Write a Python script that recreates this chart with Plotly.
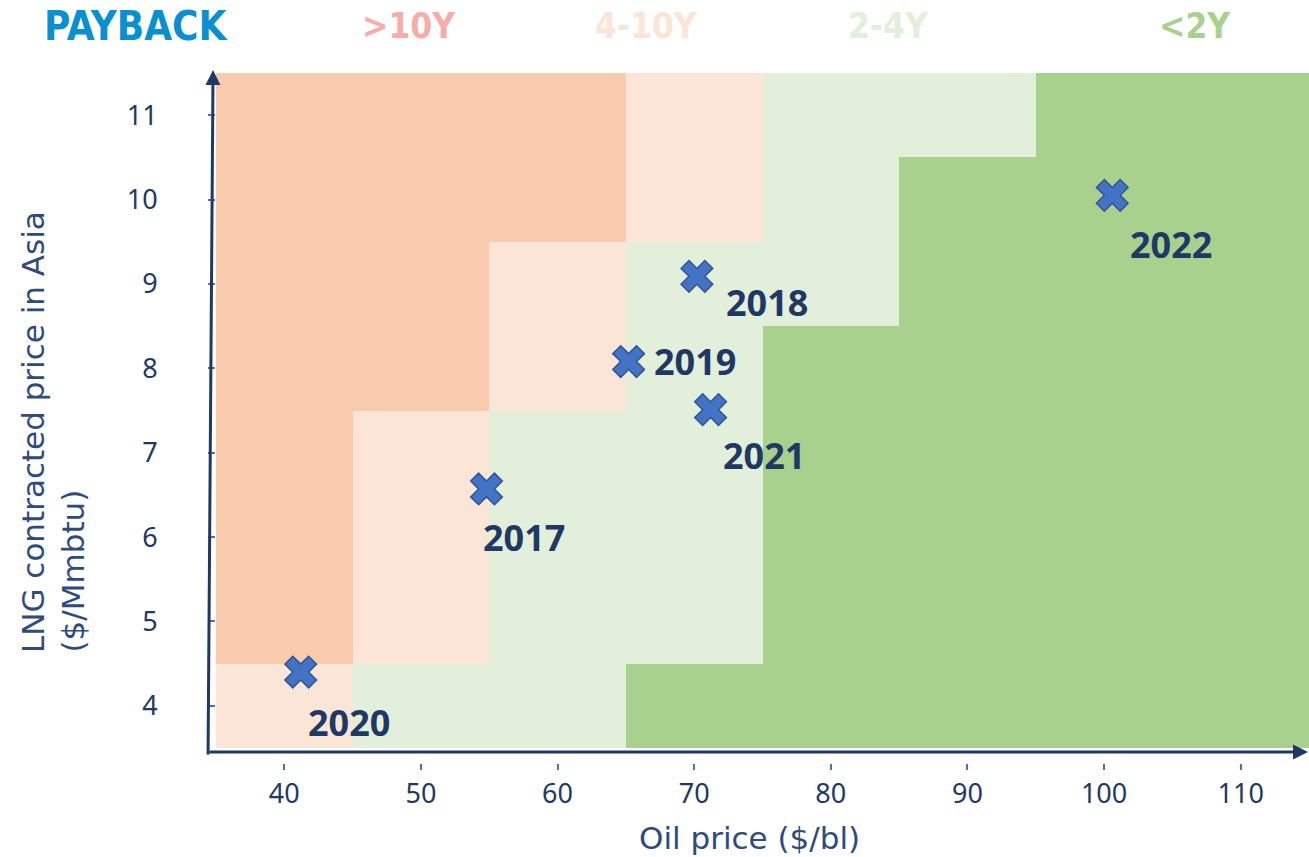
import plotly.graph_objects as go

# payback zones: 0 = >10Y, 1 = 4-10Y, 2 = 2-4Y, 3 = <2Y
zone_names = ['>10Y', '4-10Y', '2-4Y', '<2Y']
zone_colors = ['#F8CBAD', '#FBE5D6', '#E2EFDA', '#A9D18E']
header_colors = ['#F4ADA8', '#FBE5D6', '#E2EFDA', '#A9D18E']

oil_price = [40, 50, 60, 70, 80, 90, 100, 110]
lng_price = [4, 5, 6, 7, 8, 9, 10, 11]

# one row per LNG price, one column per oil price
zones = [
    [1, 2, 2, 3, 3, 3, 3, 3],
    [0, 1, 2, 2, 3, 3, 3, 3],
    [0, 1, 2, 2, 3, 3, 3, 3],
    [0, 1, 2, 2, 3, 3, 3, 3],
    [0, 0, 1, 2, 3, 3, 3, 3],
    [0, 0, 1, 2, 2, 3, 3, 3],
    [0, 0, 0, 1, 2, 3, 3, 3],
    [0, 0, 0, 1, 2, 2, 3, 3],
]

years = ['2020', '2017', '2019', '2018', '2021', '2022']
year_oil = [41.2, 54.8, 65.2, 70.2, 71.2, 100.6]
year_lng = [4.40, 6.57, 8.08, 9.09, 7.51, 10.05]

navy = '#1F3864'
title_col = '#2F4B7C'
label_offsets = {  # pixel shift of the year label from its marker
    '2020': (48, -50), '2017': (37, -49), '2019': (66, 0),
    '2018': (70, -26), '2021': (53, -46), '2022': (59, -49),
}

# stepped colour scale so each zone gets a flat colour
scale = []
n = len(zone_colors)
for i, c in enumerate(zone_colors):
    lo = max(0, (i - 0.5) / (n - 1))
    hi = min(1, (i + 0.5) / (n - 1))
    scale += [[lo, c], [hi, c]]

fig = go.Figure()
fig.add_trace(go.Heatmap(x=oil_price, y=lng_price, z=zones, zmin=0, zmax=3,
                         colorscale=scale, showscale=False, hoverinfo='skip'))
fig.add_trace(go.Scatter(x=year_oil, y=year_lng, mode='markers', text=years,
                         marker=dict(symbol='x', size=28, color='#4472C4',
                                     line=dict(color='#2F5597', width=1.5)),
                         showlegend=False))

for yr, xo, yl in zip(years, year_oil, year_lng):
    dx, dy = label_offsets[yr]
    fig.add_annotation(x=xo, y=yl, text='<b>' + yr + '</b>', showarrow=False,
                       xshift=dx, yshift=dy, xanchor='center', yanchor='middle',
                       font=dict(family='Open Sans', size=36, color=navy))

# axis arrows
fig.add_annotation(xref='paper', yref='paper', x=1, y=0.0159, axref='pixel', ayref='pixel',
                   ax=-1101, ay=0, text='', showarrow=True, arrowhead=2, arrowsize=1,
                   arrowwidth=3, arrowcolor=navy)
fig.add_annotation(xref='paper', yref='paper', x=-0.0027, y=1.0043, axref='pixel', ayref='pixel',
                   ax=-5, ay=686, text='', showarrow=True, arrowhead=2, arrowsize=1,
                   arrowwidth=3, arrowcolor=navy)


def paper_text(px, py, text, size, color, family, angle=0, yanchor='middle'):
    # place a text by its pixel position in the 1309x857 figure
    fig.add_annotation(xref='paper', yref='paper', x=(px - 216) / 1093, y=(763 - py) / 690,
                       xanchor='center', yanchor=yanchor, text=text, textangle=angle,
                       showarrow=False, font=dict(family=family, size=size, color=color))


# axis titles
paper_text(749, 838, 'Oil price ($/bl)', 31, title_col, 'DejaVu Sans')
paper_text(33, 655, 'LNG contracted price in Asia', 31, title_col, 'DejaVu Sans', -90, 'bottom')
paper_text(72, 655, '($/Mmbtu)', 31, title_col, 'DejaVu Sans', -90, 'bottom')

# header legend
hdr_font = 'Liberation Sans Narrow, DejaVu Sans Condensed, sans-serif'
paper_text(135, 26, '<b>PAYBACK</b>', 40, '#0A8FCF', hdr_font)
for name, col, px in zip(zone_names, header_colors, [409, 646, 888, 1195]):
    paper_text(px, 26, '<b>' + name + '</b>', 35, col, hdr_font)

fig.update_layout(
    width=1309, height=857,
    margin=dict(l=216, r=0, t=73, b=94, autoexpand=False),
    plot_bgcolor='white', paper_bgcolor='white',
    showlegend=False,
    xaxis=dict(range=[35, 115], tickvals=oil_price, anchor='free', position=0,
               showgrid=False, zeroline=False, showline=False,
               ticks='outside', ticklen=6, tickwidth=1.5, tickcolor='#4472C4',
               ticklabelstandoff=1,
               tickfont=dict(family='Noto Sans', size=27, color=navy)),
    yaxis=dict(range=[3.5, 11.5], tickvals=lng_price, domain=[15 / 690, 1],
               showgrid=False, zeroline=False, showline=False,
               ticks='outside', ticklen=7, tickwidth=1.5, tickcolor='#4472C4',
               ticklabelstandoff=45,
               tickfont=dict(family='Noto Sans', size=27, color=navy)),
)

# let the figure fill the window edge to edge
fig.write_html('out.html', config={'displayModeBar': False},
               post_script="document.body.style.margin='0';document.body.style.overflow='hidden';")
